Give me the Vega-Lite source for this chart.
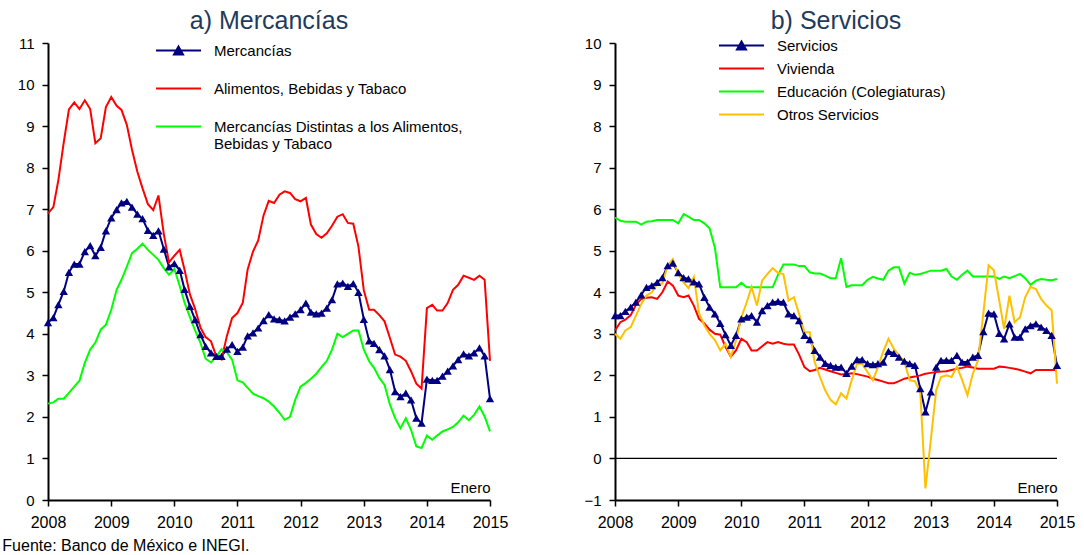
{
"$schema": "https://vega.github.io/schema/vega-lite/v6.json",
"background": "white",
"padding": {"left": 2, "top": 9, "right": 0, "bottom": 0},
"config": {
  "view": {"stroke": null},
  "font": "Liberation Sans",
  "axis": {"grid": false, "domainColor": "black", "domainWidth": 2, "tickColor": "black", "tickWidth": 1.5, "tickSize": 6, "labelFontSize": 15, "labelColor": "black", "labelFont": "Liberation Sans", "titleFont": "Liberation Sans"},
  "legend": {"labelFont": "Liberation Sans"}
},
"title": {"text": "Fuente: Banco de México e INEGI.", "orient": "bottom", "anchor": "start", "fontSize": 16, "fontWeight": "normal", "color": "black", "offset": 8, "dx": -15, "font": "Liberation Sans"},
"datasets": {"d": [
{"d":"2008-01-01","merc":4.27,"alim":6.90,"otras":2.32,"serv":3.44,"viv":3.08,"edu":5.80,"otros":3.00},
{"d":"2008-02-01","merc":4.39,"alim":7.05,"otras":2.35,"serv":3.44,"viv":3.28,"edu":5.72,"otros":2.88},
{"d":"2008-03-01","merc":4.70,"alim":7.70,"otras":2.44,"serv":3.54,"viv":3.34,"edu":5.70,"otros":3.08},
{"d":"2008-04-01","merc":5.02,"alim":8.60,"otras":2.44,"serv":3.64,"viv":3.45,"edu":5.70,"otros":3.16},
{"d":"2008-05-01","merc":5.48,"alim":9.40,"otras":2.58,"serv":3.76,"viv":3.70,"edu":5.70,"otros":3.44},
{"d":"2008-06-01","merc":5.68,"alim":9.57,"otras":2.73,"serv":3.94,"viv":3.84,"edu":5.63,"otros":3.72},
{"d":"2008-07-01","merc":5.68,"alim":9.41,"otras":2.87,"serv":4.12,"viv":3.87,"edu":5.70,"otros":3.92},
{"d":"2008-08-01","merc":5.98,"alim":9.62,"otras":3.30,"serv":4.16,"viv":3.88,"edu":5.71,"otros":4.00},
{"d":"2008-09-01","merc":6.12,"alim":9.41,"otras":3.62,"serv":4.24,"viv":3.84,"edu":5.74,"otros":4.20},
{"d":"2008-10-01","merc":5.88,"alim":8.59,"otras":3.79,"serv":4.35,"viv":4.00,"edu":5.74,"otros":4.21},
{"d":"2008-11-01","merc":6.08,"alim":8.71,"otras":4.10,"serv":4.64,"viv":4.26,"edu":5.74,"otros":4.64},
{"d":"2008-12-01","merc":6.48,"alim":9.46,"otras":4.22,"serv":4.70,"viv":4.16,"edu":5.74,"otros":4.80},
{"d":"2009-01-01","merc":6.79,"alim":9.70,"otras":4.58,"serv":4.47,"viv":3.92,"edu":5.66,"otros":4.44},
{"d":"2009-02-01","merc":6.99,"alim":9.49,"otras":5.06,"serv":4.35,"viv":3.88,"edu":5.88,"otros":4.24},
{"d":"2009-03-01","merc":7.15,"alim":9.39,"otras":5.30,"serv":4.32,"viv":3.92,"edu":5.82,"otros":4.10},
{"d":"2009-04-01","merc":7.19,"alim":9.03,"otras":5.62,"serv":4.25,"viv":3.68,"edu":5.74,"otros":4.37},
{"d":"2009-05-01","merc":7.05,"alim":8.43,"otras":5.94,"serv":4.20,"viv":3.36,"edu":5.74,"otros":3.50},
{"d":"2009-06-01","merc":6.88,"alim":7.90,"otras":6.05,"serv":3.88,"viv":3.25,"edu":5.66,"otros":3.20},
{"d":"2009-07-01","merc":6.77,"alim":7.50,"otras":6.17,"serv":3.64,"viv":3.10,"edu":5.54,"otros":3.00},
{"d":"2009-08-01","merc":6.49,"alim":7.12,"otras":6.02,"serv":3.48,"viv":3.00,"edu":5.07,"otros":2.85},
{"d":"2009-09-01","merc":6.37,"alim":6.98,"otras":5.90,"serv":3.25,"viv":2.98,"edu":4.12,"otros":2.60},
{"d":"2009-10-01","merc":6.48,"alim":7.33,"otras":5.78,"serv":2.98,"viv":2.69,"edu":4.12,"otros":2.76},
{"d":"2009-11-01","merc":6.04,"alim":6.40,"otras":5.58,"serv":2.72,"viv":2.45,"edu":4.12,"otros":2.45},
{"d":"2009-12-01","merc":5.61,"alim":5.72,"otras":5.42,"serv":2.96,"viv":2.60,"edu":4.12,"otros":2.84},
{"d":"2010-01-01","merc":5.69,"alim":5.88,"otras":5.56,"serv":3.36,"viv":2.88,"edu":4.23,"otros":3.40},
{"d":"2010-02-01","merc":5.53,"alim":6.02,"otras":5.15,"serv":3.40,"viv":2.80,"edu":4.12,"otros":3.76},
{"d":"2010-03-01","merc":5.07,"alim":5.54,"otras":4.75,"serv":3.44,"viv":2.60,"edu":4.12,"otros":4.13},
{"d":"2010-04-01","merc":4.66,"alim":4.95,"otras":4.40,"serv":3.28,"viv":2.60,"edu":4.12,"otros":3.68},
{"d":"2010-05-01","merc":4.34,"alim":4.60,"otras":4.08,"serv":3.56,"viv":2.70,"edu":4.12,"otros":4.28},
{"d":"2010-06-01","merc":3.98,"alim":4.15,"otras":3.78,"serv":3.68,"viv":2.80,"edu":4.12,"otros":4.44},
{"d":"2010-07-01","merc":3.70,"alim":3.92,"otras":3.40,"serv":3.76,"viv":2.76,"edu":4.12,"otros":4.58},
{"d":"2010-08-01","merc":3.54,"alim":3.82,"otras":3.31,"serv":3.78,"viv":2.80,"edu":4.42,"otros":4.47},
{"d":"2010-09-01","merc":3.46,"alim":3.45,"otras":3.45,"serv":3.76,"viv":2.76,"edu":4.67,"otros":4.44},
{"d":"2010-10-01","merc":3.46,"alim":3.38,"otras":3.63,"serv":3.48,"viv":2.74,"edu":4.67,"otros":3.80},
{"d":"2010-11-01","merc":3.63,"alim":3.95,"otras":3.55,"serv":3.44,"viv":2.74,"edu":4.67,"otros":3.88},
{"d":"2010-12-01","merc":3.74,"alim":4.38,"otras":3.38,"serv":3.32,"viv":2.50,"edu":4.63,"otros":3.48},
{"d":"2011-01-01","merc":3.58,"alim":4.50,"otras":2.88,"serv":2.96,"viv":2.20,"edu":4.63,"otros":3.04},
{"d":"2011-02-01","merc":3.68,"alim":4.75,"otras":2.83,"serv":2.86,"viv":2.10,"edu":4.48,"otros":3.04},
{"d":"2011-03-01","merc":3.95,"alim":5.55,"otras":2.70,"serv":2.60,"viv":2.13,"edu":4.45,"otros":2.32},
{"d":"2011-04-01","merc":4.02,"alim":5.98,"otras":2.56,"serv":2.44,"viv":2.18,"edu":4.45,"otros":1.96},
{"d":"2011-05-01","merc":4.14,"alim":6.25,"otras":2.50,"serv":2.29,"viv":2.14,"edu":4.40,"otros":1.64},
{"d":"2011-06-01","merc":4.32,"alim":6.85,"otras":2.45,"serv":2.24,"viv":2.10,"edu":4.34,"otros":1.41},
{"d":"2011-07-01","merc":4.46,"alim":7.20,"otras":2.37,"serv":2.20,"viv":2.06,"edu":4.34,"otros":1.30},
{"d":"2011-08-01","merc":4.36,"alim":7.15,"otras":2.25,"serv":2.20,"viv":2.02,"edu":4.82,"otros":1.57},
{"d":"2011-09-01","merc":4.34,"alim":7.35,"otras":2.10,"serv":2.05,"viv":2.03,"edu":4.13,"otros":1.44},
{"d":"2011-10-01","merc":4.31,"alim":7.43,"otras":1.93,"serv":2.22,"viv":2.05,"edu":4.17,"otros":1.88},
{"d":"2011-11-01","merc":4.40,"alim":7.39,"otras":2.00,"serv":2.38,"viv":2.03,"edu":4.17,"otros":2.28},
{"d":"2011-12-01","merc":4.48,"alim":7.24,"otras":2.41,"serv":2.38,"viv":2.00,"edu":4.17,"otros":2.28},
{"d":"2012-01-01","merc":4.58,"alim":7.19,"otras":2.73,"serv":2.28,"viv":1.97,"edu":4.30,"otros":2.08},
{"d":"2012-02-01","merc":4.74,"alim":7.27,"otras":2.82,"serv":2.26,"viv":1.92,"edu":4.37,"otros":1.88},
{"d":"2012-03-01","merc":4.52,"alim":6.63,"otras":2.92,"serv":2.28,"viv":1.89,"edu":4.33,"otros":2.20},
{"d":"2012-04-01","merc":4.48,"alim":6.40,"otras":3.04,"serv":2.32,"viv":1.85,"edu":4.30,"otros":2.58},
{"d":"2012-05-01","merc":4.50,"alim":6.31,"otras":3.20,"serv":2.58,"viv":1.81,"edu":4.52,"otros":2.88},
{"d":"2012-06-01","merc":4.62,"alim":6.42,"otras":3.35,"serv":2.53,"viv":1.81,"edu":4.60,"otros":2.64},
{"d":"2012-07-01","merc":4.82,"alim":6.60,"otras":3.62,"serv":2.44,"viv":1.86,"edu":4.60,"otros":2.48},
{"d":"2012-08-01","merc":5.20,"alim":6.82,"otras":4.00,"serv":2.34,"viv":1.92,"edu":4.21,"otros":2.32},
{"d":"2012-09-01","merc":5.22,"alim":6.88,"otras":3.92,"serv":2.28,"viv":1.95,"edu":4.47,"otros":1.88},
{"d":"2012-10-01","merc":5.14,"alim":6.67,"otras":4.00,"serv":2.24,"viv":1.97,"edu":4.42,"otros":1.86},
{"d":"2012-11-01","merc":5.21,"alim":6.65,"otras":4.08,"serv":1.68,"viv":2.00,"edu":4.44,"otros":1.60},
{"d":"2012-12-01","merc":5.00,"alim":6.10,"otras":4.08,"serv":1.12,"viv":2.04,"edu":4.48,"otros":-0.72},
{"d":"2013-01-01","merc":4.35,"alim":5.05,"otras":3.62,"serv":1.60,"viv":2.06,"edu":4.52,"otros":0.45},
{"d":"2013-02-01","merc":3.83,"alim":4.58,"otras":3.34,"serv":2.20,"viv":2.08,"edu":4.52,"otros":1.64},
{"d":"2013-03-01","merc":3.77,"alim":4.58,"otras":3.18,"serv":2.36,"viv":2.09,"edu":4.52,"otros":1.96},
{"d":"2013-04-01","merc":3.62,"alim":4.45,"otras":2.94,"serv":2.36,"viv":2.10,"edu":4.56,"otros":2.00},
{"d":"2013-05-01","merc":3.47,"alim":4.30,"otras":2.77,"serv":2.36,"viv":2.13,"edu":4.38,"otros":1.96},
{"d":"2013-06-01","merc":3.14,"alim":3.90,"otras":2.30,"serv":2.48,"viv":2.16,"edu":4.30,"otros":2.21},
{"d":"2013-07-01","merc":2.61,"alim":3.50,"otras":1.97,"serv":2.32,"viv":2.18,"edu":4.42,"otros":1.89},
{"d":"2013-08-01","merc":2.49,"alim":3.45,"otras":1.73,"serv":2.32,"viv":2.21,"edu":4.52,"otros":1.52},
{"d":"2013-09-01","merc":2.57,"alim":3.35,"otras":1.97,"serv":2.44,"viv":2.19,"edu":4.38,"otros":2.04},
{"d":"2013-10-01","merc":2.41,"alim":3.10,"otras":1.69,"serv":2.48,"viv":2.16,"edu":4.38,"otros":2.36},
{"d":"2013-11-01","merc":1.97,"alim":2.80,"otras":1.29,"serv":3.05,"viv":2.16,"edu":4.38,"otros":3.50},
{"d":"2013-12-01","merc":1.85,"alim":2.68,"otras":1.25,"serv":3.50,"viv":2.16,"edu":4.38,"otros":4.65},
{"d":"2014-01-01","merc":2.91,"alim":4.62,"otras":1.55,"serv":3.48,"viv":2.16,"edu":4.38,"otros":4.53},
{"d":"2014-02-01","merc":2.88,"alim":4.70,"otras":1.45,"serv":3.01,"viv":2.21,"edu":4.32,"otros":3.80},
{"d":"2014-03-01","merc":2.88,"alim":4.56,"otras":1.55,"serv":2.88,"viv":2.20,"edu":4.38,"otros":3.12},
{"d":"2014-04-01","merc":2.98,"alim":4.56,"otras":1.65,"serv":3.24,"viv":2.18,"edu":4.34,"otros":3.92},
{"d":"2014-05-01","merc":3.10,"alim":4.74,"otras":1.70,"serv":2.92,"viv":2.16,"edu":4.39,"otros":3.28},
{"d":"2014-06-01","merc":3.23,"alim":5.06,"otras":1.76,"serv":2.92,"viv":2.13,"edu":4.44,"otros":3.40},
{"d":"2014-07-01","merc":3.38,"alim":5.18,"otras":1.87,"serv":3.12,"viv":2.09,"edu":4.34,"otros":3.88},
{"d":"2014-08-01","merc":3.52,"alim":5.40,"otras":2.03,"serv":3.20,"viv":2.05,"edu":4.18,"otros":4.13},
{"d":"2014-09-01","merc":3.47,"alim":5.35,"otras":1.92,"serv":3.24,"viv":2.13,"edu":4.28,"otros":4.08},
{"d":"2014-10-01","merc":3.54,"alim":5.30,"otras":2.05,"serv":3.16,"viv":2.13,"edu":4.32,"otros":3.84},
{"d":"2014-11-01","merc":3.66,"alim":5.40,"otras":2.25,"serv":3.08,"viv":2.13,"edu":4.30,"otros":3.68},
{"d":"2014-12-01","merc":3.47,"alim":5.30,"otras":2.01,"serv":2.96,"viv":2.13,"edu":4.29,"otros":3.57},
{"d":"2015-01-01","merc":2.44,"alim":3.35,"otras":1.65,"serv":2.24,"viv":2.13,"edu":4.32,"otros":1.80}
]},
"spacing": 75,
"resolve": {"scale": {"color": "independent"}, "legend": {"color": "independent"}},
"hconcat": [
{
  "width": 442, "height": 457,
  "title": {"text": "a) Mercancías", "fontSize": 25, "fontWeight": "normal", "color": "#1F3B5C", "offset": -18, "baseline": "alphabetic", "font": "Liberation Sans"},
  "data": {"name": "d"},
  "layer": [
    {
      "transform": [{"fold": ["merc", "alim", "otras"], "as": ["serie", "valor"]}],
      "mark": {"type": "line", "strokeWidth": 2},
      "encoding": {
        "x": {"field": "d", "type": "temporal",
              "scale": {"type": "utc", "domain": [{"year": 2008, "month": 1, "date": 1, "utc": true}, {"year": 2015, "month": 1, "date": 1, "utc": true}]},
              "axis": {"values": [{"year": 2008, "utc": true}, {"year": 2009, "utc": true}, {"year": 2010, "utc": true}, {"year": 2011, "utc": true}, {"year": 2012, "utc": true}, {"year": 2013, "utc": true}, {"year": 2014, "utc": true}, {"year": 2015, "utc": true}],
                       "format": "%Y", "formatType": "utc", "labelPadding": 8, "labelFontSize": 16, "labelFlush": false, "labelOverlap": false,
                       "title": "Enero", "titleAnchor": "end", "titleAlign": "right", "titleBaseline": "alphabetic", "titleY": -8, "titleFontSize": 15, "titleFontWeight": "normal", "titleColor": "black"}},
        "y": {"field": "valor", "type": "quantitative", "scale": {"domain": [0, 11], "nice": false},
              "axis": {"values": [0,1,2,3,4,5,6,7,8,9,10,11], "title": null, "labelPadding": 8}},
        "color": {"field": "serie", "type": "nominal",
                  "scale": {"domain": ["merc", "alim", "otras"], "range": ["#000080", "#FF0000", "#00FF00"]},
                  "legend": {"title": null, "orient": "none", "legendX": 123, "legendY": 0, "padding": 0,
                             "symbolSize": 100, "symbolStrokeWidth": 2, "labelOffset": 28, "rowPadding": 22,
                             "labelFontSize": 15, "labelColor": "black", "labelLimit": 400,
                             "labelExpr": "datum.value === 'merc' ? 'Mercancías' : datum.value === 'alim' ? 'Alimentos, Bebidas y Tabaco' : ['Mercancías Distintas a los Alimentos,', 'Bebidas y Tabaco']",
                             "encode": {
                               "symbols": {"update": {
                                 "shape": [{"test": "datum.value === 'merc'", "value": "M-4.5,0H4.5M-0.9,0.8L0,-0.8L0.9,0.8Z"}, {"value": "M-4.5,0H4.5"}],
                                 "fill": [{"test": "datum.value === 'merc'", "value": "#000080"}, {"value": "transparent"}]}},
                               "labels": {"update": {"lineHeight": {"value": 17}}}
                             }}}
      }
    },
    {
      "mark": {"type": "point", "shape": "triangle-up", "filled": true, "size": 70, "color": "#000080", "opacity": 1},
      "encoding": {
        "x": {"field": "d", "type": "temporal"},
        "y": {"field": "merc", "type": "quantitative"}
      }
    }
  ]
},
{
  "width": 442, "height": 457,
  "title": {"text": "b) Servicios", "fontSize": 25, "fontWeight": "normal", "color": "#1F3B5C", "offset": -18, "baseline": "alphabetic", "font": "Liberation Sans"},
  "data": {"name": "d"},
  "layer": [
    {
      "data": {"values": [{}]},
      "mark": {"type": "rule", "color": "black", "strokeWidth": 1.3},
      "encoding": {"y": {"datum": 0}}
    },
    {
      "transform": [{"fold": ["serv", "viv", "edu", "otros"], "as": ["serie", "valor"]}],
      "mark": {"type": "line", "strokeWidth": 2},
      "encoding": {
        "x": {"field": "d", "type": "temporal",
              "scale": {"type": "utc", "domain": [{"year": 2008, "month": 1, "date": 1, "utc": true}, {"year": 2015, "month": 1, "date": 1, "utc": true}]},
              "axis": {"values": [{"year": 2008, "utc": true}, {"year": 2009, "utc": true}, {"year": 2010, "utc": true}, {"year": 2011, "utc": true}, {"year": 2012, "utc": true}, {"year": 2013, "utc": true}, {"year": 2014, "utc": true}, {"year": 2015, "utc": true}],
                       "format": "%Y", "formatType": "utc", "labelPadding": 8, "labelFontSize": 16, "labelFlush": false, "labelOverlap": false,
                       "title": "Enero", "titleAnchor": "end", "titleAlign": "right", "titleBaseline": "alphabetic", "titleY": -8, "titleFontSize": 15, "titleFontWeight": "normal", "titleColor": "black"}},
        "y": {"field": "valor", "type": "quantitative", "scale": {"domain": [-1, 10], "nice": false},
              "axis": {"values": [-1,0,1,2,3,4,5,6,7,8,9,10], "title": null, "labelPadding": 8}},
        "color": {"field": "serie", "type": "nominal",
                  "scale": {"domain": ["serv", "viv", "edu", "otros"], "range": ["#000080", "#FF0000", "#00FF00", "#FFC000"]},
                  "legend": {"title": null, "orient": "none", "legendX": 119, "legendY": -5, "padding": 0,
                             "symbolSize": 100, "symbolStrokeWidth": 2, "labelOffset": 28, "rowPadding": 7,
                             "labelFontSize": 15, "labelColor": "black", "labelLimit": 400,
                             "labelExpr": "datum.value === 'serv' ? 'Servicios' : datum.value === 'viv' ? 'Vivienda' : datum.value === 'edu' ? 'Educación (Colegiaturas)' : 'Otros Servicios'",
                             "encode": {
                               "symbols": {"update": {
                                 "shape": [{"test": "datum.value === 'serv'", "value": "M-4.5,0H4.5M-0.9,0.8L0,-0.8L0.9,0.8Z"}, {"value": "M-4.5,0H4.5"}],
                                 "fill": [{"test": "datum.value === 'serv'", "value": "#000080"}, {"value": "transparent"}]}}
                             }}}
      }
    },
    {
      "mark": {"type": "point", "shape": "triangle-up", "filled": true, "size": 70, "color": "#000080", "opacity": 1},
      "encoding": {
        "x": {"field": "d", "type": "temporal"},
        "y": {"field": "serv", "type": "quantitative"}
      }
    }
  ]
}
]
}
